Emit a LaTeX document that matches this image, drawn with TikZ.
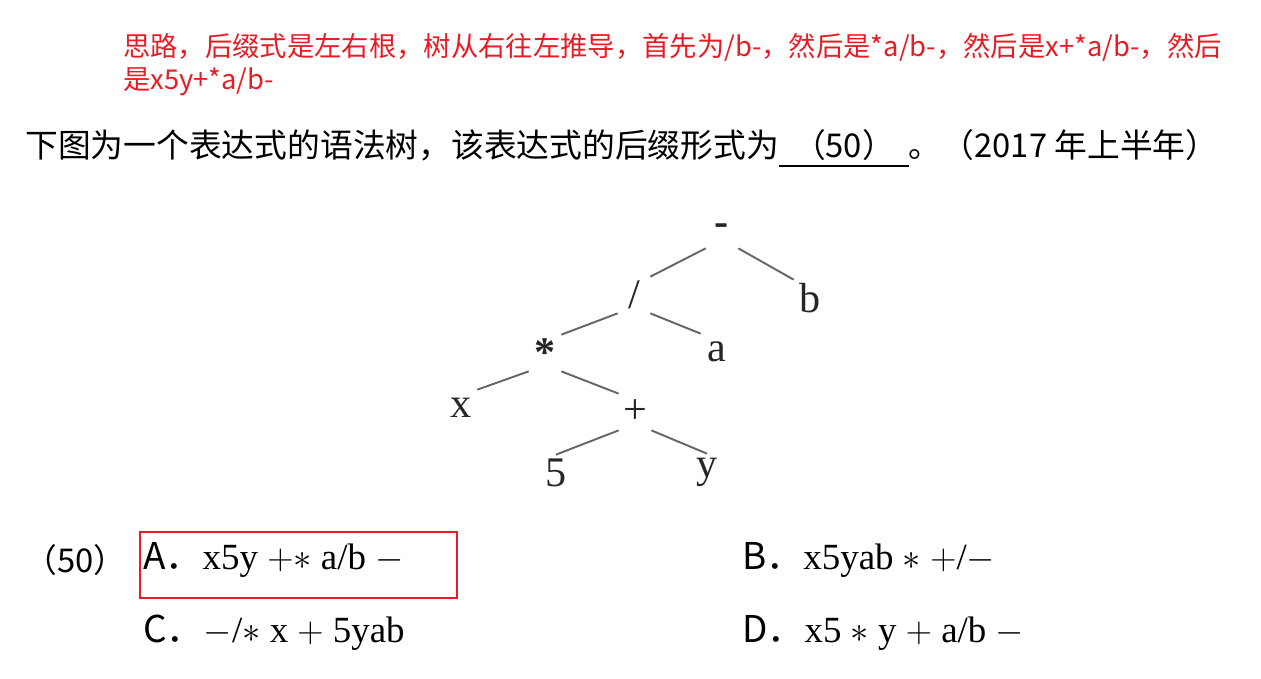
\documentclass[tikz,border=0pt]{standalone}
\usepackage{fontspec}
\setmainfont{Liberation Serif}
\newfontfamily\cjk{Noto Sans CJK SC}
\definecolor{notered}{RGB}{232,28,36}

\tikzset{
  tnode/.style={inner sep=0pt, minimum width=0.64cm, minimum height=0.72cm,
                text=black!85, font=\fontsize{24}{24}\selectfont},
  tedge/.style={black!60, line width=1.1pt},
  redtxt/.style={anchor=west, inner sep=0pt, text=notered,
                 font=\cjk\fontsize{15.55}{18}\selectfont},
  qtxt/.style={anchor=west, inner sep=0pt, font=\cjk\fontsize{18.65}{20}\selectfont},
  opt/.style={anchor=west, inner sep=0pt, font=\fontsize{21}{22}\selectfont},
}

\begin{document}
\begin{tikzpicture}[x=0.02cm, y=-0.02cm]
  \useasboundingbox (0,0) rectangle (1261,679);

  % --- Nota en rojo ---
  \node[redtxt] (nota1) at (123,47) {思路，后缀式是左右根，树从右往左推导，首先为/b-，然后是*a/b-，然后是x+*a/b-，然后};
  \node[redtxt] (nota2) at (123,82) {是x5y+*a/b-};

  % --- Enunciado ---
  \node[qtxt] (enun) at (25,148) {下图为一个表达式的语法树，该表达式的后缀形式为\rlap{\rule[-0.3em]{2.6cm}{1.2pt}}\makebox[2.6cm]{（50）}。（2017 年上半年）};

  % --- Arbol ---
  \node[tnode] (minus) at (722,230) {\textbf{-}};
  \node[tnode] (div)   at (634,295) {/};
  \node[tnode] (b)     at (810,298) {b};
  \node[tnode] (star)  at (545,353) {\textbf{*}};
  \node[tnode] (a)     at (717,352) {a};
  \node[tnode] (x)     at (461,408) {x};
  \node[tnode] (plus)  at (635,412) {+};
  \node[tnode] (five)  at (556,473) {5};
  \node[tnode] (y)     at (707,472) {y};

  \draw[tedge] (minus.south west) -- (div.north east);
  \draw[tedge] (minus.south east) -- (b.north west);
  \draw[tedge] (div.south west)   -- (star.north east);
  \draw[tedge] (div.south east)   -- (a.north west);
  \draw[tedge] (star.south west)  -- (x.north east);
  \draw[tedge] (star.south east)  -- (plus.north west);
  \draw[tedge] (plus.south west)  -- (five.north);
  \draw[tedge] (plus.south east)  -- (y.north);

  % --- Opciones ---
  \node[qtxt] (num) at (24,560) {（50）};
  \node[opt] (optA) at (143,560) {{\cjk A．}x5y\ $+$$\ast$\ a/b\ $-$};
  \node[opt] (optB) at (742,560) {{\cjk B．}x5yab\ $\ast$\ $+$/$-$};
  \node[opt] (optC) at (143,633) {{\cjk C．}$-$/$\ast$\ x\ $+$\ 5yab};
  \node[opt] (optD) at (742,633) {{\cjk D．}x5\ $\ast$\ y\ $+$\ a/b\ $-$};

  \draw[notered, line width=1.7pt] (140,532) rectangle (457,598);

\end{tikzpicture}
\end{document}
